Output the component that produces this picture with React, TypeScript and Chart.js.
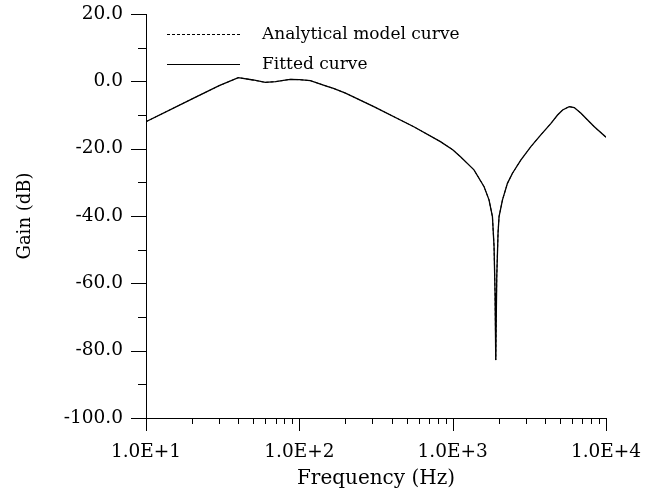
import React, { useEffect, useRef } from "react";
import { Chart, registerables } from "chart.js";

Chart.register(...registerables);

// ---- Data ----
const FREQUENCIES = [
  10, 20, 30, 40, 50, 60, 70, 87, 100, 118, 150, 167, 200, 306, 558, 832, 1000,
  1125, 1377, 1603, 1726, 1817, 1862, 1890, 1910, 1939, 1977, 2007, 2113, 2276,
  2455, 2781, 3236, 3757, 4375, 4830, 5214, 5754, 6210, 6870, 7586, 8390, 10000,
];
const ANALYTICAL_GAIN = [
  -12.0, -5.2, -1.3, 1.1, 0.4, -0.3, -0.1, 0.6, 0.5, 0.2, -1.4, -2.1, -3.5,
  -7.5, -13.5, -17.9, -20.3, -22.4, -26.3, -31.3, -35.2, -40.2, -49.1, -62.9,
  -82.8, -58.0, -45.0, -40.2, -35.2, -30.3, -27.3, -23.4, -19.4, -15.9, -12.5,
  -10.0, -8.5, -7.5, -7.8, -9.5, -11.5, -13.5, -16.6,
];
const FITTED_GAIN = [
  -12.0, -5.2, -1.3, 1.1, 0.4, -0.3, -0.1, 0.6, 0.5, 0.2, -1.4, -2.1, -3.5,
  -7.5, -13.5, -17.9, -20.3, -22.4, -26.3, -31.3, -35.2, -40.2, -49.1, -62.9,
  -82.8, -58.0, -45.0, -40.2, -35.2, -30.3, -27.3, -23.4, -19.4, -15.9, -12.5,
  -10.0, -8.5, -7.5, -7.8, -9.5, -11.5, -13.5, -16.6,
];
const SERIES_LABELS = ["Analytical model curve", "Fitted curve"];
const X_DECADES = [10, 100, 1000, 10000];
const X_MINOR_MULTIPLIERS = [2, 3, 4, 5, 6, 7, 8, 9];
const Y_MAJOR_TICKS = [-100, -80, -60, -40, -20, 0, 20];
const Y_MINOR_TICKS = [-90, -70, -50, -30, -10, 10];
const X_TITLE = "Frequency (Hz)";
const Y_TITLE = "Gain (dB)";

const FONT_FAMILY = "'DejaVu Serif', 'Liberation Serif', serif";

const tickPlugin = {
  id: "axisTickMarks",
  afterDraw(chart: any) {
    const { ctx, scales } = chart;
    const xs = scales.x;
    const ys = scales.y;
    const axisY = ys.getPixelForValue(-100);
    const axisX = xs.getPixelForValue(10);
    ctx.save();
    ctx.strokeStyle = "#000";
    ctx.lineWidth = 1;
    ctx.beginPath();
    X_DECADES.forEach((d) => {
      const px = Math.round(xs.getPixelForValue(d)) + 0.5;
      ctx.moveTo(px, axisY);
      ctx.lineTo(px, axisY + 13);
    });
    X_DECADES.slice(0, -1).forEach((d) => {
      X_MINOR_MULTIPLIERS.forEach((m) => {
        const px = Math.round(xs.getPixelForValue(d * m)) + 0.5;
        ctx.moveTo(px, axisY);
        ctx.lineTo(px, axisY + 6);
      });
    });
    Y_MAJOR_TICKS.forEach((v) => {
      const py = Math.round(ys.getPixelForValue(v)) + 0.5;
      ctx.moveTo(axisX - 15, py);
      ctx.lineTo(axisX, py);
    });
    Y_MINOR_TICKS.forEach((v) => {
      const py = Math.round(ys.getPixelForValue(v)) + 0.5;
      ctx.moveTo(axisX - 8, py);
      ctx.lineTo(axisX, py);
    });
    ctx.stroke();
    ctx.restore();
  },
};

const legendPlugin = {
  id: "insideLegend",
  afterDraw(chart: any) {
    const { ctx } = chart;
    const items = chart.data.datasets.map((ds: any) => ({
      label: ds.label,
      dash: ds.borderDash || [],
    }));
    const rows = [34, 64];
    ctx.save();
    ctx.font = `17px ${FONT_FAMILY}`;
    ctx.fillStyle = "#000";
    ctx.textBaseline = "middle";
    ctx.textAlign = "left";
    items.forEach((it: any, i: number) => {
      const y = rows[i] + 0.5;
      ctx.strokeStyle = "#000";
      ctx.lineWidth = 1;
      ctx.setLineDash(it.dash);
      ctx.beginPath();
      ctx.moveTo(167, y);
      ctx.lineTo(240, y);
      ctx.stroke();
      ctx.setLineDash([]);
      ctx.fillText(it.label, 262, rows[i] + 1);
    });
    ctx.restore();
  },
};

export default function App() {
  const canvasRef = useRef<HTMLCanvasElement | null>(null);

  useEffect(() => {
    if (!canvasRef.current) return;
    const analytical = FREQUENCIES.map((f, i) => ({ x: f, y: ANALYTICAL_GAIN[i] }));
    const fitted = FREQUENCIES.map((f, i) => ({ x: f, y: FITTED_GAIN[i] }));

    const chart = new Chart(canvasRef.current, {
      type: "line",
      data: {
        datasets: [
          {
            label: SERIES_LABELS[0],
            data: analytical,
            borderColor: "#000",
            borderWidth: 1,
            borderDash: [3, 2],
            pointRadius: 0,
            tension: 0,
            fill: false,
          },
          {
            label: SERIES_LABELS[1],
            data: fitted,
            borderColor: "#000",
            borderWidth: 1.3,
            pointRadius: 0,
            tension: 0,
            fill: false,
          },
        ],
      },
      options: {
        responsive: false,
        animation: false,
        events: [],
        layout: { padding: { top: 14, right: 63, left: 0, bottom: 0 } },
        plugins: {
          legend: { display: false },
          tooltip: { enabled: false },
        },
        scales: {
          x: {
            type: "logarithmic",
            position: "bottom",
            min: 10,
            max: 10000,
            grid: { display: false, drawTicks: false },
            border: { display: true, color: "#000", width: 1 },
            afterBuildTicks: (s: any) => {
              s.ticks = X_DECADES.map((value) => ({ value, major: true }));
            },
            afterFit: (s: any) => {
              s.height = 75;
              s.paddingLeft = 0;
              s.paddingRight = 0;
            },
            ticks: {
              color: "#000",
              autoSkip: false,
              maxRotation: 0,
              padding: 23,
              font: { family: FONT_FAMILY, size: 18.5 },
              callback: (v: any) => `1.0E+${Math.round(Math.log10(Number(v)))}`,
            },
            title: {
              display: true,
              text: X_TITLE,
              color: "#000",
              font: { family: FONT_FAMILY, size: 20 },
              padding: { top: 0, bottom: 2 },
            },
          },
          y: {
            type: "linear",
            position: "left",
            min: -100,
            max: 20,
            grid: { display: false, drawTicks: false },
            border: { display: true, color: "#000", width: 1 },
            afterBuildTicks: (s: any) => {
              s.ticks = Y_MAJOR_TICKS.map((value) => ({ value }));
            },
            afterFit: (s: any) => {
              s.width = 146;
              s.paddingTop = 0;
              s.paddingBottom = 0;
            },
            ticks: {
              color: "#000",
              padding: 23,
              font: { family: FONT_FAMILY, size: 18.5 },
              callback: (v: any) => Number(v).toFixed(1),
            },
            title: {
              display: true,
              text: Y_TITLE,
              color: "#000",
              font: { family: FONT_FAMILY, size: 18 },
              padding: { top: 15, bottom: 0 },
            },
          },
        },
      },
      plugins: [tickPlugin, legendPlugin],
    } as any);

    return () => chart.destroy();
  }, []);

  return (
    <div style={{ position: "absolute", left: 0, top: 0, width: 669, height: 493, background: "#fff" }}>
      <canvas ref={canvasRef} width={669} height={493} style={{ display: "block" }} />
    </div>
  );
}
